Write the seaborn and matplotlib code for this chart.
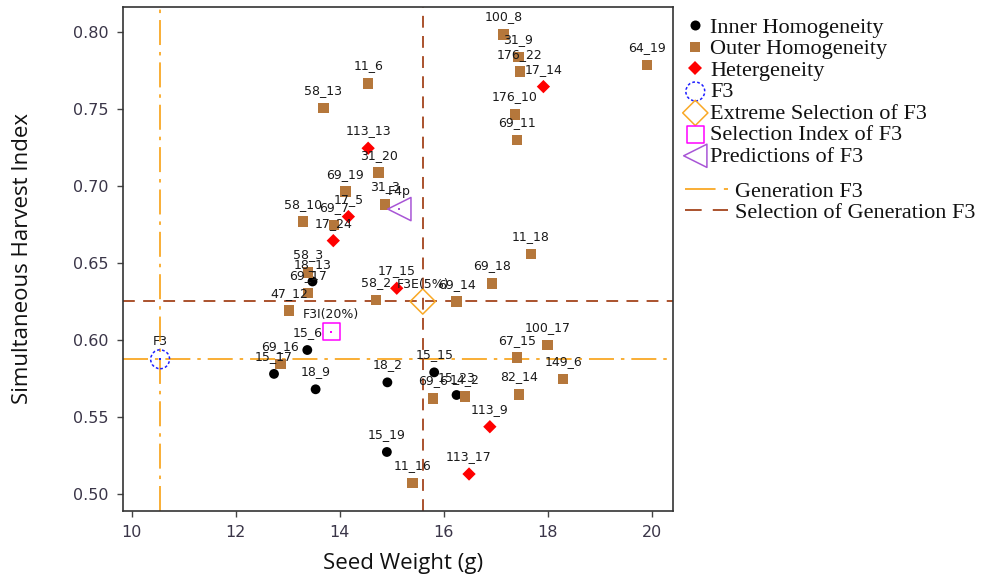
import matplotlib
matplotlib.use("Agg")
import matplotlib.pyplot as plt
import seaborn as sns
import pandas as pd
from matplotlib.lines import Line2D

# ---------------- data ----------------
inner_labels = ["18_13", "15_6", "15_17", "18_9", "18_2", "15_15", "15_23", "15_19"]
inner_x = [13.48, 13.38, 12.74, 13.54, 14.92, 15.82, 16.25, 14.91]
inner_y = [0.638, 0.5935, 0.578, 0.568, 0.5725, 0.579, 0.5643, 0.5273]

outer_labels = ["100_8", "31_9", "176_22", "176_10", "69_11", "64_19", "11_6", "58_13",
                "31_20", "69_19", "31_3", "58_10", "69_7", "58_3", "69_17", "47_12",
                "58_2", "69_14", "69_18", "11_18", "100_17", "67_15", "149_6", "82_14",
                "69_6", "14_2", "69_16", "11_16"]
outer_x = [17.15, 17.44, 17.47, 17.375, 17.41, 19.91, 14.55, 13.69,
           14.75, 14.11, 14.875, 13.30, 13.89, 13.39, 13.39, 13.03,
           14.70, 16.25, 16.93, 17.68, 18.00, 17.41, 18.30, 17.45,
           15.80, 16.41, 12.86, 15.40]
outer_y = [0.7985, 0.7836, 0.7742, 0.7465, 0.7299, 0.7786, 0.7667, 0.7505,
           0.7086, 0.6963, 0.6881, 0.6768, 0.6747, 0.644, 0.6305, 0.619,
           0.626, 0.6249, 0.6368, 0.6557, 0.5968, 0.5887, 0.5747, 0.5647,
           0.5621, 0.5632, 0.5844, 0.5073]

het_labels = ["17_14", "113_13", "17_5", "17_24", "17_15", "113_9", "113_17"]
het_x = [17.92, 14.55, 14.17, 13.88, 15.10, 16.89, 16.49]
het_y = [0.7645, 0.7245, 0.6801, 0.6645, 0.6336, 0.5437, 0.513]

special_labels = ["F3", "F3E(5%)", "F3I(20%)", "F4p"]
special_x = [10.55, 15.60, 13.84, 15.15]
special_y = [0.5875, 0.625, 0.6054, 0.685]

gen_x, gen_y = 10.55, 0.5875      # Generation F3
sel_x, sel_y = 15.60, 0.625       # Selection of Generation F3

group_names = ["Inner Homogeneity", "Outer Homogeneity", "Hetergeneity"]
special_names = ["F3", "Extreme Selection of F3", "Selection Index of F3", "Predictions of F3"]
line_names = ["Generation F3", "Selection of Generation F3"]

# ---------------- styles ----------------
BROWN = "#B5773B"
ORANGE = "#F9A825"
LINE_BROWN = "#A4441C"
group_colors = {group_names[0]: "black", group_names[1]: BROWN, group_names[2]: "#FF0000"}
group_markers = {group_names[0]: "o", group_names[1]: "s", group_names[2]: "D"}
group_sizes = {group_names[0]: 50, group_names[1]: 58, group_names[2]: 46}

df = pd.concat([
    pd.DataFrame({"x": inner_x, "y": inner_y, "label": inner_labels, "group": group_names[0]}),
    pd.DataFrame({"x": outer_x, "y": outer_y, "label": outer_labels, "group": group_names[1]}),
    pd.DataFrame({"x": het_x, "y": het_y, "label": het_labels, "group": group_names[2]}),
], ignore_index=True)

sns.set_theme(style="white")
plt.rcParams["font.family"] = ["DejaVu Sans"]
plt.rcParams["lines.scale_dashes"] = False

fig = plt.figure(figsize=(9.81, 5.8), dpi=100)
ax = fig.add_axes([0.1251, 0.119, 0.561, 0.8695])

GEN_DASH = (0, (18, 5, 2.5, 5))
SEL_DASH = (0, (8.5, 6))
ax.axvline(gen_x, color=ORANGE, lw=1.3, ls=GEN_DASH, zorder=1)
ax.axhline(gen_y, color=ORANGE, lw=1.3, ls=GEN_DASH, zorder=1)
ax.axvline(sel_x, color=LINE_BROWN, lw=1.3, ls=SEL_DASH, zorder=1)
ax.axhline(sel_y, color=LINE_BROWN, lw=1.3, ls=SEL_DASH, zorder=1)

sns.scatterplot(data=df, x="x", y="y", hue="group", style="group", size="group",
                palette=group_colors, markers=group_markers, sizes=group_sizes,
                linewidth=0, legend=False, ax=ax, zorder=3)

# special (open) symbols
sp_colors = ["#1F1FFF", ORANGE, "#FF00FF", "#A855D6"]
sp_markers = ["o", "D", "s", "<"]
sp_sizes = [185, 165, 150, 280]
sp_ls = [(0, (2, 1.6)), "solid", "solid", "solid"]
sp_handles = []
for i in range(4):
    h = ax.scatter([special_x[i]], [special_y[i]], s=sp_sizes[i], marker=sp_markers[i],
                   facecolors="none", edgecolors=sp_colors[i], linewidths=1.1,
                   linestyles=sp_ls[i], zorder=4)
    sp_handles.append(h)
    if i != 1:
        ax.scatter([special_x[i]], [special_y[i]], s=2, marker="s", color=sp_colors[i],
                   linewidths=0, zorder=4)

# point labels
for lx, ly, lt in zip(df["x"], df["y"], df["label"]):
    ax.annotate(lt, (lx, ly), xytext=(0, 12.5), textcoords="offset points",
                ha="center", va="center", fontsize=9, color="#1a1a1a", zorder=5)
for lx, ly, lt in zip(special_x, special_y, special_labels):
    ax.annotate(lt, (lx, ly), xytext=(0, 12.5), textcoords="offset points",
                ha="center", va="center", fontsize=9, color="#1a1a1a", zorder=5)

# axes
ax.set_xlim(9.831, 20.413)
ax.set_ylim(0.489, 0.8164)
ax.set_xticks([10, 12, 14, 16, 18, 20])
ax.set_yticks([0.50, 0.55, 0.60, 0.65, 0.70, 0.75, 0.80])
ax.set_yticklabels(["0.50", "0.55", "0.60", "0.65", "0.70", "0.75", "0.80"])
ax.tick_params(axis="both", direction="out", length=4, width=1, color="#444444",
               labelsize=11.5, labelcolor="#3a3548", left=True, bottom=True, pad=6)
for sp in ax.spines.values():
    sp.set_color("#333333")
    sp.set_linewidth(1.2)
ax.set_xlabel("Seed Weight (g)", fontsize=16, family="Open Sans", color="#111111")
ax.set_ylabel("Simultaneous Harvest Index", fontsize=16, family="Open Sans", color="#111111")
ax.xaxis.set_label_coords(0.51, -0.083)
ax.yaxis.set_label_coords(-0.163, 0.5)

# legends
mk_handles = [
    Line2D([], [], ls="none", marker="o", color="black", markersize=7.2, markeredgewidth=0),
    Line2D([], [], ls="none", marker="s", color=BROWN, markersize=7.4, markeredgewidth=0),
    Line2D([], [], ls="none", marker="D", color="#FF0000", markersize=6.8, markeredgewidth=0),
] + sp_handles
leg1 = fig.legend(mk_handles, group_names + special_names, loc="upper left",
                  bbox_to_anchor=(0.698, 0.970), frameon=False, borderpad=0, borderaxespad=0,
                  handlelength=0.95, handletextpad=0.2, labelspacing=0.04, scatterpoints=1,
                  prop={"family": "Liberation Serif", "size": 16})
ln_handles = [
    Line2D([], [], color=ORANGE, lw=1.3, ls=(0, (22, 6, 6, 6))),
    Line2D([], [], color=LINE_BROWN, lw=1.3, ls=(0, (12, 8))),
]
leg2 = fig.legend(ln_handles, line_names, loc="upper left",
                  bbox_to_anchor=(0.698, 0.688), frameon=False, borderpad=0, borderaxespad=0,
                  handlelength=1.95, handletextpad=0.3, labelspacing=0.04,
                  prop={"family": "Liberation Serif", "size": 16})
for t in leg1.get_texts() + leg2.get_texts():
    t.set_color("#111111")

fig.savefig("out.png", dpi=100, facecolor="white")
